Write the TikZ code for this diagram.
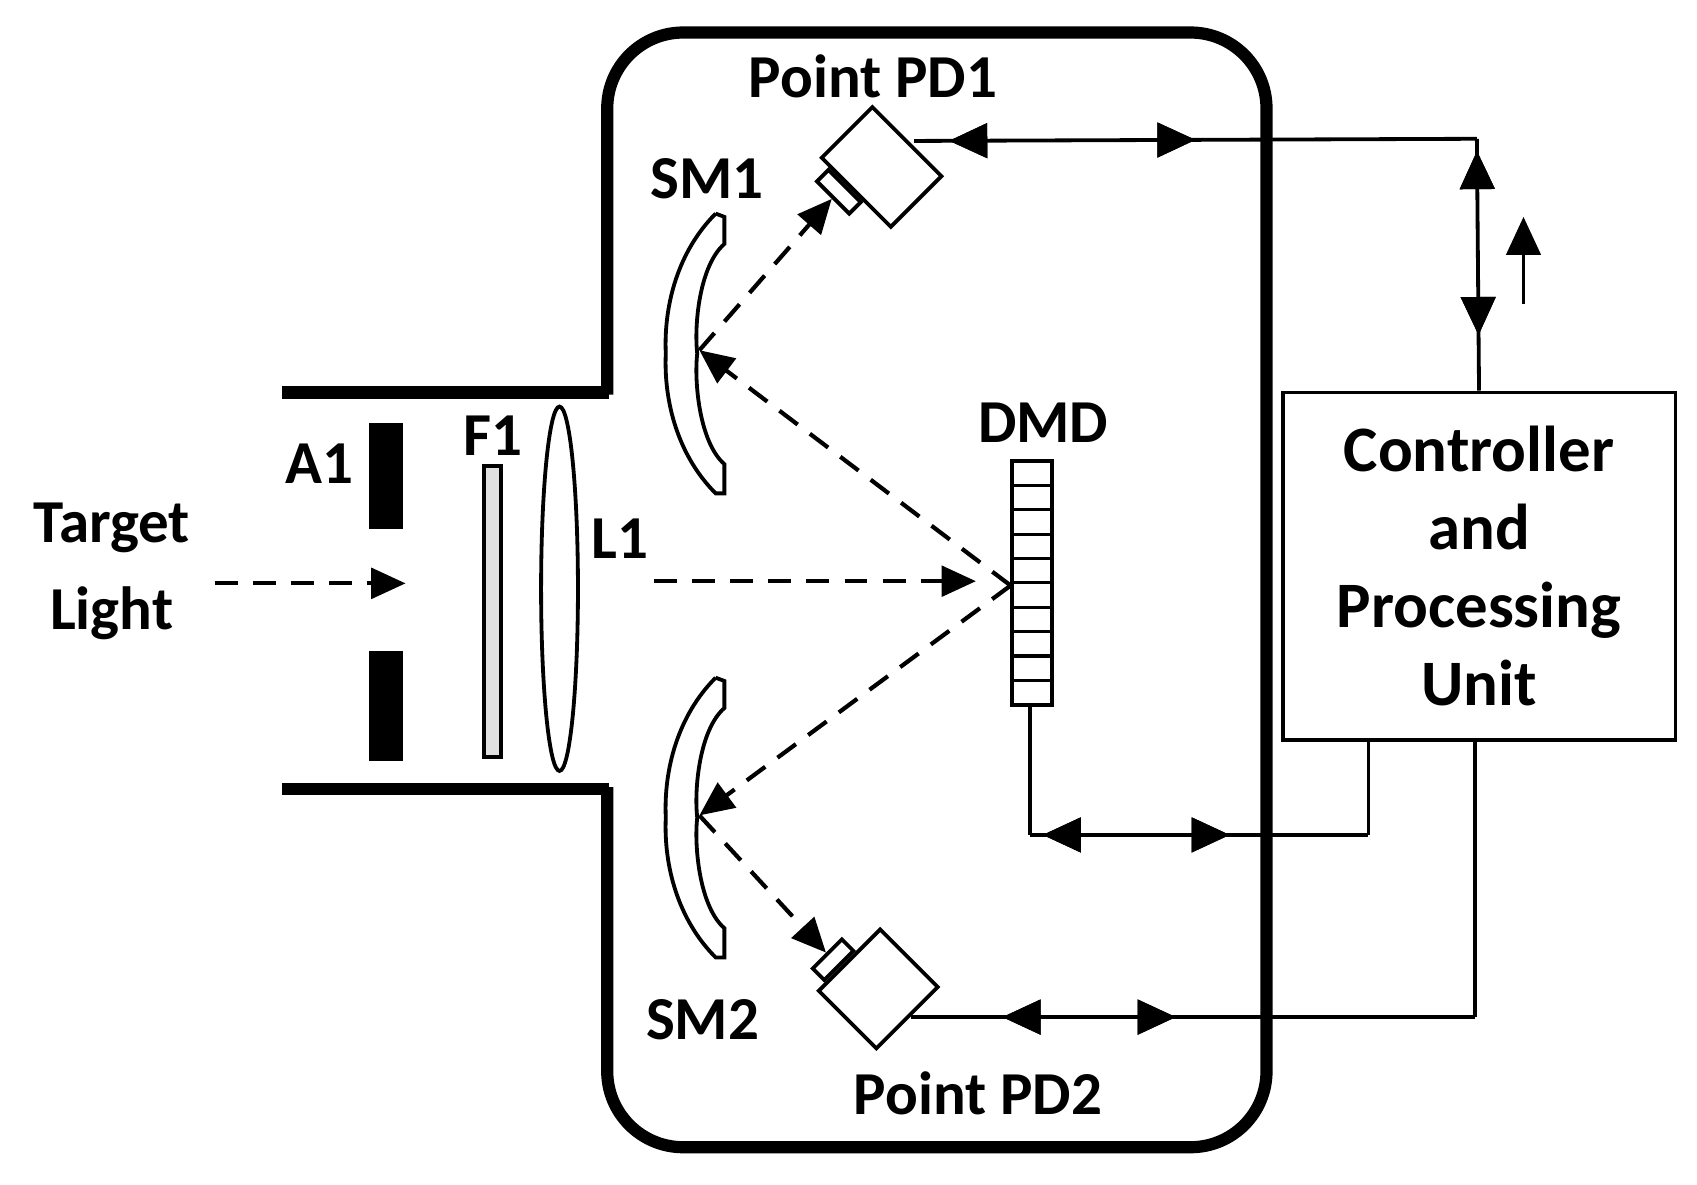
\documentclass[tikz,border=0pt]{standalone}
\usepackage{fontspec}
\setmainfont{Carlito}
\usetikzlibrary{arrows.meta,decorations.markings,calc}
\begin{document}
\begin{tikzpicture}[x=0.01cm,y=-0.01cm,
  lbl/.style={font=\fontsize{16}{19}\selectfont\bfseries,inner sep=0pt},
  beam/.style={dashed,line width=1.1pt,dash pattern=on 6pt off 4pt,-{Triangle[length=9pt,width=8pt]}},
  wire/.style={line width=1pt},
  tip/.style={-{Triangle[length=10pt,width=9pt]},line width=1pt},
  thick wall/.style={line width=3.2pt},
  mk/.style={postaction={decorate},decoration={markings,mark=at position #1 with {\arrow{Triangle[length=10pt,width=9pt]}}}},
  mkr/.style={postaction={decorate},decoration={markings,mark=at position #1 with {\arrow{Triangle[reversed,length=10pt,width=9pt]}}}}]
\useasboundingbox (0,0) rectangle (1565,1092);
% housing
\draw[thick wall,rounded corners=0.7cm] (560,364) -- (560,30) -- (1168,30) -- (1168,1058) -- (560,1058) -- (560,726);
\draw[thick wall] (260,362) -- (561.5,362);
\draw[thick wall] (260,728) -- (561.5,728);
% aperture, filter, lens
\fill (340,390) rectangle (372,488);
\fill (340,600) rectangle (372,702);
\draw[fill=black!12,line width=1pt] (446,430) rectangle (462,698);
\draw[line width=1pt] (516,543) ellipse [x radius=17, y radius=168];
\node[lbl] (a1) at (295,428) {A1};
\node[lbl] (f1) at (455,402) {F1};
\node[lbl] (l1) at (572,497) {L1};
\node[lbl,align=center] (tl) at (103,527) {Target\\[4pt]Light};
% DMD
\draw[line width=1pt] (933,425) rectangle (970,650);
\foreach \i in {1,...,9} \draw[line width=0.8pt] (933,{425+22.5*\i}) -- (970,{425+22.5*\i});
\node[lbl] (dmdl) at (962,390) {DMD};
\coordinate (dmd) at (932,540);
\coordinate (dmdb) at (950,650);
% mirrors
\draw[line width=1pt,fill=white] (660,197) -- (668,200) -- (668,225) .. controls (645,245) and (640,300) .. (643,326) .. controls (640,352) and (645,408) .. (668,428) -- (668,455) -- (660,455) .. controls (625,420) and (612,370) .. (614,326) .. controls (612,282) and (625,232) .. (660,197);
\draw[line width=1pt,fill=white] (660,625) -- (668,628) -- (668,653) .. controls (645,673) and (640,728) .. (643,754) .. controls (640,780) and (645,836) .. (668,856) -- (668,883) -- (660,883) .. controls (625,848) and (612,798) .. (614,754) .. controls (612,710) and (625,660) .. (660,625);
\coordinate (sm1) at (645,323);
\coordinate (sm2) at (645,752);
\node[lbl] (sm1l) at (652,165) {SM1};
\node[lbl] (sm2l) at (648,940) {SM2};
% photodiodes
\node[draw,line width=1pt,rotate=-45,minimum width=0.9cm,minimum height=0.66cm,inner sep=0pt] (pd1) at (813,154) {};
\node[draw,line width=1pt,rotate=-45,minimum width=0.42cm,minimum height=0.15cm,inner sep=0pt,anchor=north] (pd1s) at ($(pd1.south)!0.25!(pd1.south west)$) {};
\node[draw,line width=1pt,rotate=45,minimum width=0.8cm,minimum height=0.75cm,inner sep=0pt] (pd2) at (810,912) {};
\node[draw,line width=1pt,rotate=45,minimum width=0.38cm,minimum height=0.15cm,inner sep=0pt,anchor=south] (pd2s) at ($(pd2.north)!0.25!(pd2.north west)$) {};
\node[lbl] (pd1l) at (805,70) {Point PD1};
\node[lbl] (pd2l) at (902,1008) {Point PD2};
% controller
\node[draw,line width=1pt,minimum width=3.62cm,minimum height=3.2cm,lbl,align=center,font=\fontsize{17}{20.5}\selectfont\bfseries] (cpu) at (1364,522) {Controller\\and\\Processing\\Unit};
% beams
\coordinate (tl0) at (198,538); \coordinate (tl1) at (374,538);
\draw[beam] (tl0) -- (tl1);
\coordinate (l1o) at (603,536); \coordinate (dmdi) at (900,536);
\draw[beam] (l1o) -- (dmdi);
\draw[beam] (dmd) -- (sm1);
\draw[beam] (sm1) -- (pd1s.south);
\draw[beam] (dmd) -- (sm2);
\draw[beam] (sm2) -- (pd2s.north);
% wires
\coordinate (w1) at (1362,128);
\coordinate (p1o) at (843,130);
\draw[wire,mkr=0.13,mk=0.5] (p1o) -- (w1);
\draw[wire,mkr=0.2,mk=0.78] (w1) -- (cpu.north);
\coordinate (up0) at (1405,280); \coordinate (up1) at (1405,200);
\draw[tip] (up0) -- (up1);
\coordinate (w2a) at (950,770); \coordinate (w2b) at (1262,770);
\draw[wire] (dmdb) -- (w2a);
\draw[wire,mkr=0.15,mk=0.59] (w2a) -- (w2b);
\draw[wire] (w2b) -- (cpu.south -| w2b);
\coordinate (p2o) at (840,938);
\coordinate (w3) at (1360,938);
\draw[wire,mkr=0.23,mk=0.47] (p2o) -- (w3);
\draw[wire] (w3) -- (cpu.south -| w3);
\end{tikzpicture}
\end{document}
